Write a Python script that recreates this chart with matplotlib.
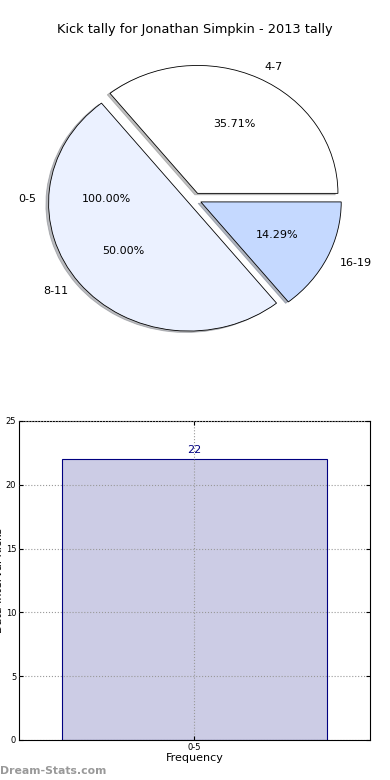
import matplotlib
matplotlib.use("Agg")
import matplotlib.pyplot as plt

# pie data
pie_labels = ["4-7", "8-11", "16-19"]
pie_values = [5, 7, 2]
pie_colors = ["#FFFFFF", "#EBF1FF", "#C5D9FF"]
extra_label = ["0-5"]
extra_value = [22]

# bar data
bar_labels = ["0-5"]
bar_values = [22]

fig = plt.figure(figsize=(3.9, 7.8), dpi=100)

ax1 = fig.add_axes([0.0487, 0.5397, 0.9, 0.41])
ax1.pie(extra_value, labels=extra_label, autopct="%1.2f%%", colors=["white"],
        center=(-0.03, 0),
        wedgeprops=dict(linewidth=0, alpha=0),
        textprops=dict(fontsize=8))
ax1.pie(pie_values, labels=pie_labels, autopct="%1.2f%%", colors=pie_colors,
        explode=[0.05, 0.05, 0.05],
        shadow=dict(ox=-0.014, oy=-0.008, shade=0.5),
        wedgeprops=dict(edgecolor="black", linewidth=0.6),
        textprops=dict(fontsize=8))
ax1.set_aspect("auto")
ax1.set_xlim(-1.25, 1.25)
ax1.set_ylim(-1.25, 1.25)
fig.text(0.5, 0.962, "Kick tally for Jonathan Simpkin - 2013 tally",
         ha="center", va="center", fontsize=9.3)

ax2 = fig.add_axes([0.0487, 0.0513, 0.9, 0.409])
x = list(range(len(bar_values)))
bars = ax2.bar(x, bar_values, width=0.8, color="#CCCCE5", edgecolor="navy",
               linewidth=0.8, zorder=2)
for xi, v in zip(x, bar_values):
    ax2.text(xi, v + 0.3, str(v), ha="center", va="bottom", color="navy", fontsize=8)
ax2.set_xlim(-0.53, 0.53)
ax2.set_ylim(0, 25)
ax2.set_yticks([0, 5, 10, 15, 20, 25])
ax2.set_xticks(x)
ax2.set_xticklabels(bar_labels)
ax2.tick_params(labelsize=6, direction="in", top=True, right=True, length=3, pad=2)
ax2.grid(True, linestyle=":", color="#999999", linewidth=0.8, zorder=3)
ax2.set_axisbelow(False)
ax2.set_xlabel("Frequency", fontsize=8, labelpad=1)
ax2.set_ylabel("Data Interval Kicks", fontsize=8)
ax2.yaxis.set_label_coords(-0.043, 0.5)

fig.text(0.0, 0.012, "Dream-Stats.com", fontsize=7.8, color="#999999",
         fontweight="bold", ha="left", va="center")

fig.savefig("out.png", dpi=100)
